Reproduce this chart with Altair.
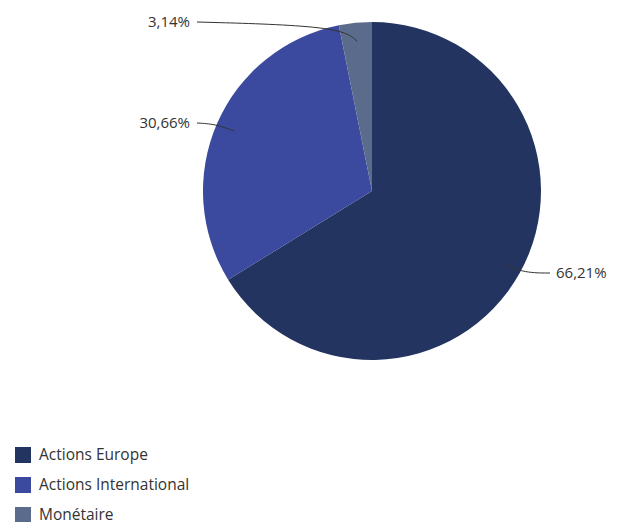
import math
import altair as alt
import pandas as pd

# ---- data ----
categories = ["Actions Europe", "Actions International", "Monétaire"]
values = [66.21, 30.66, 3.14]
labels = ["66,21%", "30,66%", "3,14%"]
colors = ["#22345f", "#3b4a9e", "#5b6b8c"]

# ---- layout (chart coordinates, page minus 8px margin) ----
W, H = 601, 520
CX, CY, R = 364, 183, 169
# label anchor / connector end, elbow, text alignment
label_layout = {
    "Actions Europe": dict(end=(542, 265), elbow=(517, 265), tx=548, align="left"),
    "Actions International": dict(end=(189, 115), elbow=(207, 116), tx=182, align="right"),
    "Monétaire": dict(end=(189, 14), elbow=(332, 18), tx=182, align="right"),
}

total = sum(values)
df = pd.DataFrame({"cat": categories, "value": values, "label": labels,
                   "order": list(range(len(categories)))})

# connector lines & label positions derived from slice mid-angles
line_rows, text_rows = [], []
cum = 0.0
for c, v, lab in zip(categories, values, labels):
    mid = (cum + v / 2) / total * 2 * math.pi
    cum += v
    sx = CX + 0.89 * R * math.sin(mid)
    sy = CY - 0.89 * R * math.cos(mid)
    L = label_layout[c]
    for i, (px, py) in enumerate([(sx, sy), L["elbow"], L["end"]]):
        line_rows.append({"cat": c, "i": i, "px": px, "py": py})
    text_rows.append({"cat": c, "label": lab, "tx": L["tx"], "ty": L["end"][1],
                      "align": L["align"]})
lines_df = pd.DataFrame(line_rows)
text_df = pd.DataFrame(text_rows)

color_scale = alt.Scale(domain=categories, range=colors)

base = alt.Chart(df)

shadow = alt.Chart(pd.DataFrame({"v": [1]})).mark_arc(
    color="#000000", opacity=0.35, radius=R
).encode(theta=alt.Theta("v:Q"), x=alt.value(CX + 1), y=alt.value(CY + 3))

pie = base.mark_arc(radius=R).encode(
    theta=alt.Theta("value:Q", stack=True),
    order=alt.Order("order:Q"),
    color=alt.Color(
        "cat:N", scale=color_scale, sort=categories,
        legend=alt.Legend(
            title=None, orient="none", legendX=7, legendY=439,
            symbolType="square", symbolSize=256, symbolStrokeWidth=0,
            rowPadding=13, labelFontSize=15.5, labelFont="Open Sans",
            labelColor="#333333", labelOffset=8, symbolOpacity=1,
        ),
    ),
    x=alt.value(CX), y=alt.value(CY),
)

connectors = alt.Chart(lines_df).mark_line(
    color="#333333", strokeWidth=1, interpolate="basis"
).encode(
    x=alt.X("px:Q", scale=None), y=alt.Y("py:Q", scale=None),
    detail="cat:N", order="i:Q",
)

left_text = alt.Chart(text_df).transform_filter(alt.datum.align == "left").mark_text(
    align="left", baseline="middle", font="Open Sans", fontSize=15, color="#333333"
).encode(x=alt.X("tx:Q", scale=None), y=alt.Y("ty:Q", scale=None), text="label:N")

right_text = alt.Chart(text_df).transform_filter(alt.datum.align == "right").mark_text(
    align="right", baseline="middle", font="Open Sans", fontSize=15, color="#333333"
).encode(x=alt.X("tx:Q", scale=None), y=alt.Y("ty:Q", scale=None), text="label:N")

chart = alt.layer(shadow, pie, connectors, left_text, right_text).resolve_scale(
    color="independent"
).properties(
    width=W, height=H, padding=0, autosize=alt.AutoSizeParams(type="none")
).configure(
    background="white", view=alt.ViewConfig(stroke=None)
)

chart.save("out.html", embed_options={"renderer": "svg", "actions": False})
